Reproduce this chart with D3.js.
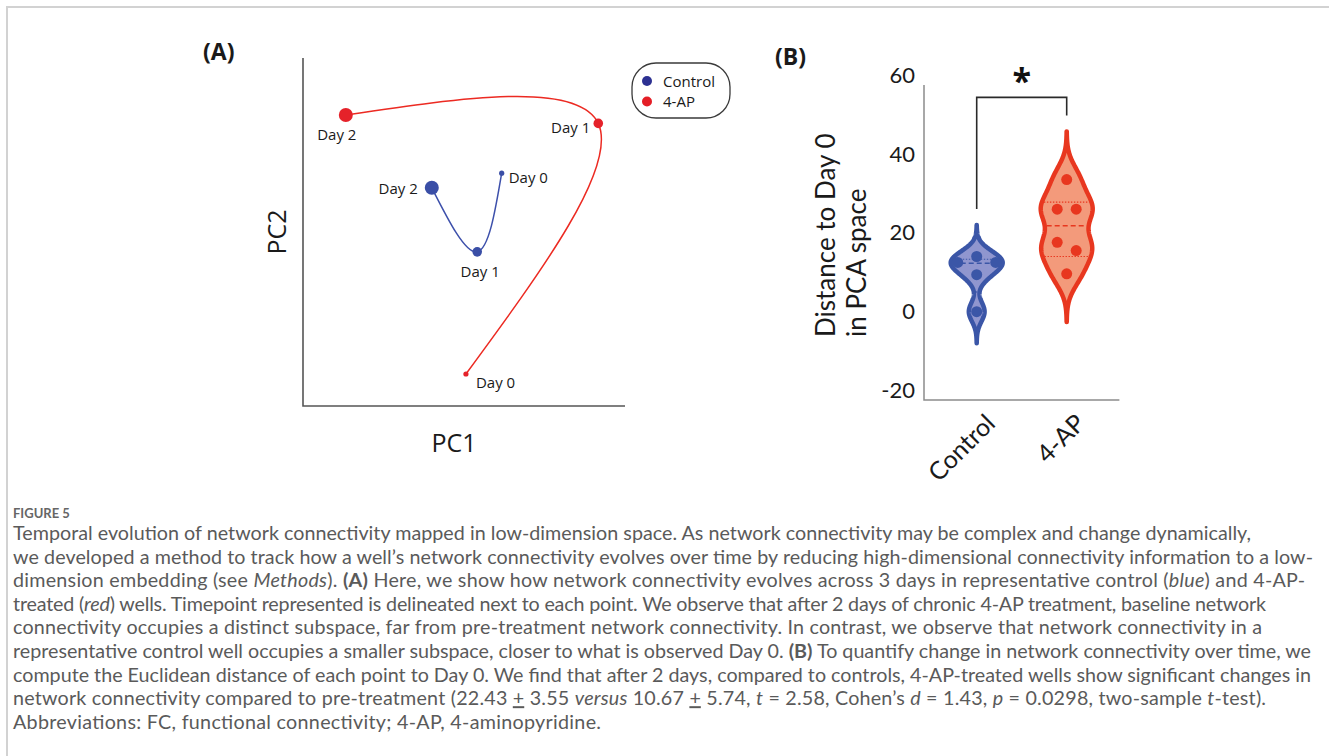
<!DOCTYPE html>
<html><head><meta charset="utf-8">
<script src="https://cdn.jsdelivr.net/npm/d3@7"></script>
<style>body{margin:0;background:#fff;} svg{display:block;}</style>
</head><body><svg id="fig" width="1329" height="756"></svg>
<script>
// ---------- Panel A data (PC space, arbitrary units) ----------
const days = ["Day 0", "Day 1", "Day 2"];
const controlPC1 = [61.7, 54.1, 40.0];
const controlPC2 = [66.9, 44.3, 62.7];
const apPC1 = [50.6, 91.7, 13.3];
const apPC2 = [9.2, 81.2, 83.6];
const legendLabels = ["Control", "4-AP"];

// ---------- Panel B data ----------
const groups = ["Control", "4-AP"];
const controlDist = [14.0, 12.5, 12.5, 9.4, 0.0];
const apDist = [33.5, 26.0, 26.0, 17.6, 15.5, 9.6];
const controlLines = [5.0, 12.3, 13.3];   // lower quartile, median, upper quartile (as drawn)
const apLines = [14.0, 21.8, 27.8];
const yTicks = [-20, 0, 20, 40, 60];
const yLimits = [-22.4, 57.5];

// ---------- colours ----------
const C = {
  blue: "#3a4ea6", blueLine: "#3d50ab", red: "#e5222a", redLine: "#ec2a22",
  legBlue: "#2d3192", legRed: "#e41e26",
  vBlueStroke: "#3b56a7", vBlueFill: "#9096cf", vRedStroke: "#e8371f", vRedFill: "#f39a7b",
  axis: "#555", axisB: "#8c8c8c", text: "#1a1a1a", caption: "#5a5a5a"
};

const svg = d3.select("#fig");
svg.append("rect").attr("width", 1329).attr("height", 756).attr("fill", "#fff");
// figure frame
svg.append("path").attr("d", "M7,756 L7,7 L1329,7").attr("fill", "none")
  .attr("stroke", "#d2d2d2").attr("stroke-width", 2);

// ================= PANEL A =================
const A = svg.append("g");
const xA = d3.scaleLinear([0, 100], [303, 625]);
const yA = d3.scaleLinear([0, 100], [406, 58]);
A.append("path")
  .attr("d", `M${xA(0)},${yA(100)} L${xA(0)},${yA(0)} L${xA(100)},${yA(0)}`)
  .attr("fill", "none").attr("stroke", C.axis).attr("stroke-width", 1.6);
A.append("text").attr("x", 203).attr("y", 60).text("(A)")
  .attr("font-family", "Open Sans").attr("font-weight", 700).attr("font-size", 23).attr("fill", C.text);
A.append("text").attr("transform", `translate(286,${(yA(0) + yA(100)) / 2}) rotate(-90)`)
  .attr("text-anchor", "middle").text("PC2")
  .attr("font-family", "Open Sans").attr("font-size", 25).attr("fill", C.text);
A.append("text").attr("x", (xA(0) + xA(100)) / 2 - 10).attr("y", 452)
  .attr("text-anchor", "middle").text("PC1")
  .attr("font-family", "Open Sans").attr("font-size", 25).attr("fill", C.text);

const rDay = d3.scaleLinear([0, 2], [2.6, 7]);
const series = [
  { key: "ap", pc1: apPC1, pc2: apPC2, line: C.redLine, dot: C.red,
    lab: [{ dx: 10, dy: 14, a: "start" }, { dx: -8, dy: 10, a: "end" }, { dx: -9, dy: 25, a: "middle" }] },
  { key: "ctl", pc1: controlPC1, pc2: controlPC2, line: C.blueLine, dot: C.blue,
    lab: [{ dx: 7, dy: 10, a: "start" }, { dx: 3, dy: 25, a: "middle" }, { dx: -14, dy: 6, a: "end" }] }
];
const lineGen = d3.line().x(d => xA(d[0])).y(d => yA(d[1])).curve(d3.curveNatural);
series.forEach(s => {
  const pts = days.map((d, i) => [s.pc1[i], s.pc2[i]]);
  A.append("path").attr("d", lineGen(pts)).attr("fill", "none")
    .attr("stroke", s.line).attr("stroke-width", 1.5);
  A.selectAll(null).data(pts).join("circle")
    .attr("cx", d => xA(d[0])).attr("cy", d => yA(d[1]))
    .attr("r", (d, i) => rDay(i)).attr("fill", s.dot);
  A.selectAll(null).data(pts).join("text")
    .attr("x", (d, i) => xA(d[0]) + s.lab[i].dx).attr("y", (d, i) => yA(d[1]) + s.lab[i].dy)
    .attr("text-anchor", (d, i) => s.lab[i].a).text((d, i) => days[i])
    .attr("font-family", "Open Sans").attr("font-size", 15).attr("fill", C.text);
});
// legend
const L = A.append("g");
L.append("rect").attr("x", 632).attr("y", 63).attr("width", 98).attr("height", 55).attr("rx", 24)
  .attr("fill", "#fff").attr("stroke", "#3a3a3a").attr("stroke-width", 1.3);
const legCol = [C.legBlue, C.legRed];
L.selectAll(null).data(legendLabels).join("circle")
  .attr("cx", 647).attr("cy", (d, i) => 81 + i * 20.5).attr("r", 5).attr("fill", (d, i) => legCol[i]);
L.selectAll(null).data(legendLabels).join("text")
  .attr("x", 663).attr("y", (d, i) => 86.5 + i * 20.5).text(d => d)
  .attr("font-family", "Open Sans").attr("font-size", 15).attr("fill", C.text);

// ================= PANEL B =================
const B = svg.append("g");
const xB = d3.scalePoint(groups, [924, 1119.4]).padding(0.5856);
const yB = d3.scaleLinear(yLimits, [400, 85]);
B.append("text").attr("x", 775).attr("y", 65).text("(B)")
  .attr("font-family", "Open Sans").attr("font-weight", 700).attr("font-size", 23).attr("fill", C.text);

const yAxis = d3.axisLeft(yB).tickValues(yTicks).tickSize(0).tickPadding(9).tickFormat(d => String(d));
const gy = B.append("g").attr("transform", "translate(924,0)").call(yAxis);
gy.select(".domain").remove();
gy.selectAll("text").attr("font-family", "Lato").attr("font-size", 22).attr("fill", C.text);
B.append("path").attr("d", `M924,${yB(yLimits[1])} L924,${yB(yLimits[0])} L${xB.range()[1]},${yB(yLimits[0])}`)
  .attr("fill", "none").attr("stroke", C.axisB).attr("stroke-width", 1.5);

// y title
const yt = B.append("g").attr("font-family", "Lato").attr("font-size", 26).attr("fill", C.text);
yt.append("text").attr("transform", "translate(835,337) rotate(-90)").text("Distance to Day 0");
yt.append("text").attr("transform", "translate(866,337) rotate(-90)").text("in PCA space");

// x labels
B.selectAll(null).data(groups).join("text")
  .attr("transform", d => `translate(${xB(d) + 20},425) rotate(-45)`)
  .attr("text-anchor", "end").text(d => d)
  .attr("font-family", "Lato").attr("font-size", 25).attr("fill", C.text);

// violins
const maxHalf = 26, dotR = 5.5, dotStep = 19;
function density(values, bw, v) {
  return d3.sum(values, d => Math.exp(-0.5 * ((v - d) / bw) ** 2));
}
const violinDefs = [
  { g: "Control", vals: controlDist, lines: controlLines, stroke: C.vBlueStroke, fill: C.vBlueFill },
  { g: "4-AP", vals: apDist, lines: apLines, stroke: C.vRedStroke, fill: C.vRedFill }
];
violinDefs.forEach(v => {
  const bw = 0.44 * d3.deviation(v.vals);
  const lo = d3.min(v.vals) - 3.2 * bw, hi = d3.max(v.vals) + 3.2 * bw;
  const grid = d3.range(201).map(i => lo + (hi - lo) * i / 200);
  const dens = grid.map(g => [g, density(v.vals, bw, g)]);
  const maxD = d3.max(dens, d => d[1]);
  const w = d3.scaleLinear([0, maxD], [0, maxHalf]);
  const cx = xB(v.g);
  v.bw = bw; v.tip = hi; v.cx = cx;
  const area = d3.area().y(d => yB(d[0])).x0(d => cx - w(d[1])).x1(d => cx + w(d[1]));
  B.append("path").attr("d", area(dens)).attr("fill", v.fill)
    .attr("stroke", v.stroke).attr("stroke-width", 4.5).attr("stroke-linejoin", "round");
  // quartile (dotted) and median (dashed) lines
  v.lines.forEach((q, i) => {
    const hw = Math.max(0, w(density(v.vals, bw, q)) - 2);
    B.append("line").attr("x1", cx - hw).attr("x2", cx + hw).attr("y1", yB(q)).attr("y2", yB(q))
      .attr("stroke", v.stroke)
      .attr("stroke-width", i === 1 ? 1.6 : 1.2)
      .attr("stroke-dasharray", i === 1 ? "5,3" : "1.4,1.6");
  });
  // dots: clustered side by side when they would overlap
  const items = v.vals.slice().sort((a, b) => b - a);
  const clusters = []; let cur = [];
  items.forEach((val, k) => {
    if (k > 0 && Math.abs(yB(items[k - 1]) - yB(val)) > 2 * dotR) { clusters.push(cur); cur = []; }
    cur.push(val);
  });
  clusters.push(cur);
  const dots = [];
  clusters.forEach(c => {
    const n = c.length, slots = [];
    if (n % 2 === 1) { slots.push(0); for (let k = 1; k <= (n - 1) / 2; k++) slots.push(-k, k); }
    else { for (let k = 0; k < n / 2; k++) slots.push(-(k + 0.5), k + 0.5); }
    c.forEach((val, j) => dots.push({ x: cx + slots[j] * dotStep, y: yB(val) }));
  });
  B.selectAll(null).data(dots).join("circle")
    .attr("cx", d => d.x).attr("cy", d => d.y).attr("r", dotR).attr("fill", v.stroke);
});

// significance bracket
const leftBottom = yB(violinDefs[0].tip) - 16;
const rightBottom = yB(violinDefs[1].tip) - 16;
const bracketTop = rightBottom - 18;
B.append("path")
  .attr("d", `M${violinDefs[0].cx},${leftBottom} L${violinDefs[0].cx},${bracketTop} L${violinDefs[1].cx},${bracketTop} L${violinDefs[1].cx},${rightBottom}`)
  .attr("fill", "none").attr("stroke", "#2a2a2a").attr("stroke-width", 1.6);
B.append("text").attr("x", (violinDefs[0].cx + violinDefs[1].cx) / 2).attr("y", bracketTop - 4)
  .attr("text-anchor", "middle").text("*")
  .attr("font-family", "Open Sans").attr("font-weight", 700).attr("font-size", 34).attr("fill", "#111");

// ================= CAPTION =================
const capX = 13;
svg.append("text").attr("x", capX).attr("y", 518).text("FIGURE 5")
  .attr("font-family", "Lato").attr("font-weight", 700).attr("font-size", 13).attr("fill", "#666");
const capLines = [
  [["Temporal evolution of network connectivity mapped in low-dimension space. As network connectivity may be complex and change dynamically,"]],
  [["we developed a method to track how a well’s network connectivity evolves over time by reducing high-dimensional connectivity information to a low-"]],
  [["dimension embedding (see "], ["Methods", "i"], ["). "], ["(A)", "b"], [" Here, we show how network connectivity evolves across 3 days in representative control ("], ["blue", "i"], [") and 4-AP-"]],
  [["treated ("], ["red", "i"], [") wells. Timepoint represented is delineated next to each point. We observe that after 2 days of chronic 4-AP treatment, baseline network"]],
  [["connectivity occupies a distinct subspace, far from pre-treatment network connectivity. In contrast, we observe that network connectivity in a"]],
  [["representative control well occupies a smaller subspace, closer to what is observed Day 0. "], ["(B)", "b"], [" To quantify change in network connectivity over time, we"]],
  [["compute the Euclidean distance of each point to Day 0. We find that after 2 days, compared to controls, 4-AP-treated wells show significant changes in"]],
  [["network connectivity compared to pre-treatment (22.43 "], ["+", "u"], [" 3.55 "], ["versus", "i"], [" 10.67 "], ["+", "u"], [" 5.74, "], ["t", "i"], [" = 2.58, Cohen’s "], ["d", "i"], [" = 1.43, "], ["p", "i"], [" = 0.0298, two-sample "], ["t", "i"], ["-test)."]],
  [["Abbreviations: FC, functional connectivity; 4-AP, 4-aminopyridine."]]
];
const capEnds = [1251, 1313, 1305, 1266, 1262, 1311, 1311, 1266, 601];
const cap = svg.append("g").attr("font-family", "Lato").attr("fill", C.caption);
const capTexts = capLines.map((segs, i) => {
  const t = cap.append("text").attr("x", capX).attr("y", 540 + i * 23.6).attr("font-size", 17);
  segs.forEach(s => {
    const ts = t.append("tspan").text(s[0]);
    if (s[1] === "i") ts.attr("font-style", "italic");
    if (s[1] === "b") ts.attr("font-weight", 700);
    if (s[1] === "u") ts.attr("text-decoration", "underline");
  });
  return t;
});
// size font so the longest full line matches, then fit each line to its width
const w7 = capTexts[6].node().getComputedTextLength();
const fs = 17 * (capEnds[6] - capX) / w7;
capTexts.forEach((t, i) => {
  t.attr("font-size", fs);
  t.attr("textLength", capEnds[i] - capX).attr("lengthAdjust", "spacing");
});
</script></body></html>
